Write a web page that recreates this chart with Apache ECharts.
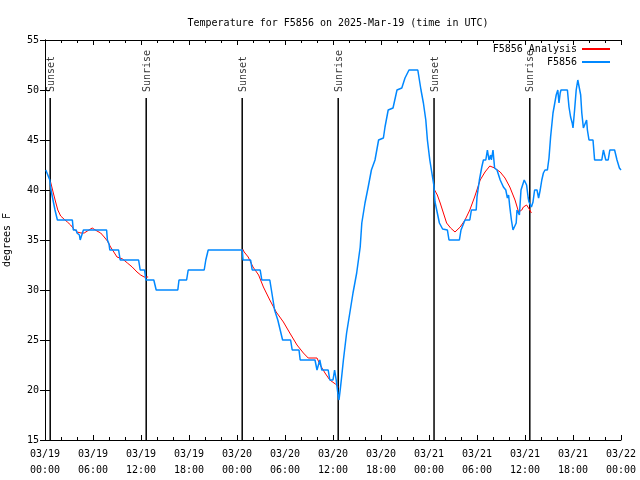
<!DOCTYPE html>
<html>
<head>
<meta charset="utf-8">
<script src="https://cdn.jsdelivr.net/npm/echarts@6/dist/echarts.min.js"></script>
<style>html,body{margin:0;padding:0;background:#fff}#c{width:640px;height:480px}</style>
</head>
<body>
<div id="c"></div>
<script>
// hours since 2025-03-19 00:00 UTC
const xTickLabels = ['03/19\n00:00','03/19\n06:00','03/19\n12:00','03/19\n18:00','03/20\n00:00','03/20\n06:00','03/20\n12:00','03/20\n18:00','03/21\n00:00','03/21\n06:00','03/21\n12:00','03/21\n18:00','03/22\n00:00'];
const yTickLabels = ['15','20','25','30','35','40','45','50','55'];

const obsHours = [0.1,0.35,0.6,0.75,1.0,1.25,1.55,3.42,3.54,3.9,4.0,4.3,4.4,4.6,4.8,7.7,7.8,8.0,8.1,9.2,9.4,11.7,11.9,12.45,12.6,13.6,13.9,16.6,16.75,17.7,17.9,19.9,20.1,20.4,24.66,24.75,25.7,25.9,26.9,27.1,28.1,28.3,28.5,28.7,28.9,29.1,29.4,29.7,30.7,30.9,31.75,31.9,33.75,34.0,34.2,34.35,34.6,35.4,35.6,36.0,36.2,36.4,36.6,36.75,36.9,37.08,37.3,37.7,38.1,38.5,38.96,39.4,39.6,40.0,40.4,40.8,41.25,41.7,42.3,42.5,42.9,43.5,44.0,44.6,45.0,45.5,46.6,47.0,47.3,47.6,47.8,48.1,48.3,48.6,48.75,49.04,49.3,49.7,50.3,50.5,51.8,52.0,52.5,53.1,53.3,53.9,54.0,54.3,54.6,54.8,55.1,55.3,55.5,55.7,55.8,56.0,56.2,56.5,56.9,57.3,57.6,57.8,57.95,58.1,58.3,58.5,58.7,58.9,59.0,59.15,59.3,59.5,59.7,59.9,60.1,60.2,60.4,60.5,60.8,61.0,61.2,61.5,61.7,61.9,62.1,62.3,62.5,62.8,63.0,63.2,63.5,63.9,64.1,64.25,64.4,64.5,65.3,65.5,65.7,65.9,66.0,66.2,66.4,66.6,66.8,66.96,67.1,67.3,67.5,67.7,67.8,68.0,68.5,68.7,69.6,69.8,70.0,70.1,70.4,70.6,71.2,71.5,71.8,72];
const obsTemps = [42,42,41,40,39,38,37,37,36,36,35.7,35.5,35,35,36,36,35,34.6,34,34,33,33,32,32,31,31,30,30,31,31,32,32,33,34,34,33,33,32,32,31,31,30,29,28,27.8,27,26,25,25,24,24,23,23,22,22,23,22,22,21,21,22,21,19.7,19,20,21.3,23,25.7,27.7,29.7,31.7,34.3,36.7,38.7,40.3,42,43,45,45.2,46.3,48,48.2,50,50.2,51.2,52,52,50,48.7,47,45,43,42,40.5,38.8,37.7,36.7,36.1,36,35,35,36,37,37,38,38,39.3,41,42.3,43,43,44,43,43.5,43,44,42.2,42,41,40.3,40,39.2,39.5,38.3,37,36,36,36.7,38,37.8,37.5,40,40.2,41,41,40.5,39.2,38.8,38.3,38.8,40,40,39.2,40,41,41.7,42,42,43.2,45.3,47.7,49.5,50,48.7,49.7,50,50,48.3,47.3,46.7,46.2,48,50,51,51.2,49.5,47.7,46.2,46.2,47,46,45,45,43,43,44,44,43,43,44,44,43,42.2,42];

// analysis (night-time segments); null separates segments
const anaHours = [0.7,1.04,1.33,1.6,1.96,2.4,2.8,3.2,3.6,4.0,4.5,4.9,5.3,5.9,6.5,6.96,7.4,7.8,8.2,8.6,9.0,9.7,10.3,10.9,11.5,11.96,12.4,12.9,null,
  24.7,24.9,25.4,26.0,26.7,27.3,28.1,28.9,29.8,30.6,31.5,32.3,32.9,34.0,34.4,35.0,35.6,36.3,36.7,null,
  48.7,49.04,49.4,49.8,50.2,50.7,51.25,51.9,52.5,53.1,53.7,54.4,55.0,55.6,56.2,56.9,57.5,58.1,58.75,59.2,59.6,59.8,60.2,60.6,60.8];
const anaTemps = [40.8,39.7,38.8,38,37.4,37.07,36.8,36.5,36.1,35.8,35.7,35.7,35.9,36.2,35.9,35.7,35.3,34.9,34.3,33.8,33.3,33.1,32.7,32.3,31.8,31.5,31.3,31.3,null,
  34.1,33.8,33.3,32.3,31.5,30.3,29,27.8,26.8,25.7,24.5,23.7,23.2,23.2,22.5,21.7,21,20.6,20.3,null,
  40,39.5,38.7,37.7,36.7,36.2,35.8,36.3,37,38,39.3,41,41.8,42.4,42.2,41.8,41.2,40.3,39,37.8,38,38.3,38.5,38,37.7,37.7];

const sunHours = [0.65,12.65,24.65,36.65,48.63,60.6];
const sunNames = ['Sunset','Sunrise','Sunset','Sunrise','Sunset','Sunrise'];

const FONT = 'DejaVu Sans Mono';
const zip = (a,b) => a.map((v,i) => v === null ? [null,null] : [v,b[i]]);

const sunSeries = sunHours.map(h => ({
  type:'line', silent:true, symbol:'none', z:1,
  lineStyle:{color:'#000', width:1.5},
  data:[[h,15],[h,49.2]]
}));

const chart = echarts.init(document.getElementById('c'));
chart.setOption({
  animation:false,
  backgroundColor:'#fff',
  title:{text:'Temperature for F5856 on 2025-Mar-19 (time in UTC)', left:333, textAlign:'center', top:13,
    textStyle:{fontFamily:FONT, fontSize:10, fontWeight:'normal', color:'#000'}},
  legend:[
    {data:['F5856 Analysis'], right:30, top:44, align:'right', orient:'vertical', padding:0, itemWidth:28, itemHeight:2, icon:'rect',
     textStyle:{fontFamily:FONT, fontSize:10, color:'#000'}},
    {data:['F5856'], right:30, top:57, align:'right', orient:'vertical', padding:0, itemWidth:28, itemHeight:2, icon:'rect',
     textStyle:{fontFamily:FONT, fontSize:10, color:'#000'}}
  ],
  grid:{left:45, right:19, top:40, bottom:40, containLabel:false, outerBoundsMode:'none'},
  xAxis:[
    {type:'value', min:0, max:72, interval:6,
     axisLine:{lineStyle:{color:'#000', width:1}},
     axisTick:{inside:true, length:5, lineStyle:{color:'#000'}},
     minorTick:{show:true, splitNumber:3, length:3, lineStyle:{color:'#000'}},
     splitLine:{show:false},
     axisLabel:{formatter:v => xTickLabels[Math.round(v/6)], fontFamily:FONT, fontSize:10, color:'#000', lineHeight:16, margin:6, showMinLabel:true, showMaxLabel:true}},
    {type:'value', min:0, max:72, interval:6, position:'top',
     axisLine:{lineStyle:{color:'#000', width:1}},
     axisTick:{inside:true, length:5, lineStyle:{color:'#000'}},
     minorTick:{show:true, splitNumber:3, length:3, lineStyle:{color:'#000'}},
     splitLine:{show:false}, axisLabel:{show:false}}
  ],
  yAxis:[
    {type:'value', min:15, max:55, interval:5, name:'degrees F', nameLocation:'middle', nameGap:33,
     nameTextStyle:{fontFamily:FONT, fontSize:10, color:'#000'},
     axisLine:{lineStyle:{color:'#000', width:1}},
     axisTick:{inside:true, length:5, lineStyle:{color:'#000'}},
     splitLine:{show:false},
     axisLabel:{formatter:v => yTickLabels[Math.round((v-15)/5)], fontFamily:FONT, fontSize:10, color:'#000', margin:6}},
    {type:'value', min:15, max:55, interval:5, position:'right',
     axisLine:{show:true, lineStyle:{color:'#000', width:1}},
     axisTick:{show:true, inside:true, length:5, lineStyle:{color:'#000'}},
     splitLine:{show:false}, axisLabel:{show:false}}
  ],
  series:[
    ...sunSeries,
    {type:'scatter', silent:true, symbolSize:0, z:3,
     data:sunHours.map(h => [h, 49.8]),
     label:{show:true, position:[1,0], rotate:90, align:'left', verticalAlign:'middle',
       formatter:p => sunNames[p.dataIndex], fontFamily:FONT, fontSize:10, color:'#000'}},
    {name:'F5856 Analysis', type:'line', symbol:'none', connectNulls:false, z:2,
     lineStyle:{color:'#ff0000', width:1}, itemStyle:{color:'#ff0000'},
     data:zip(anaHours, anaTemps)},
    {name:'F5856', type:'line', symbol:'none', z:3,
     lineStyle:{color:'#0088ff', width:1.5}, itemStyle:{color:'#0088ff'},
     data:zip(obsHours, obsTemps)}
  ]
});
</script>
</body>
</html>
